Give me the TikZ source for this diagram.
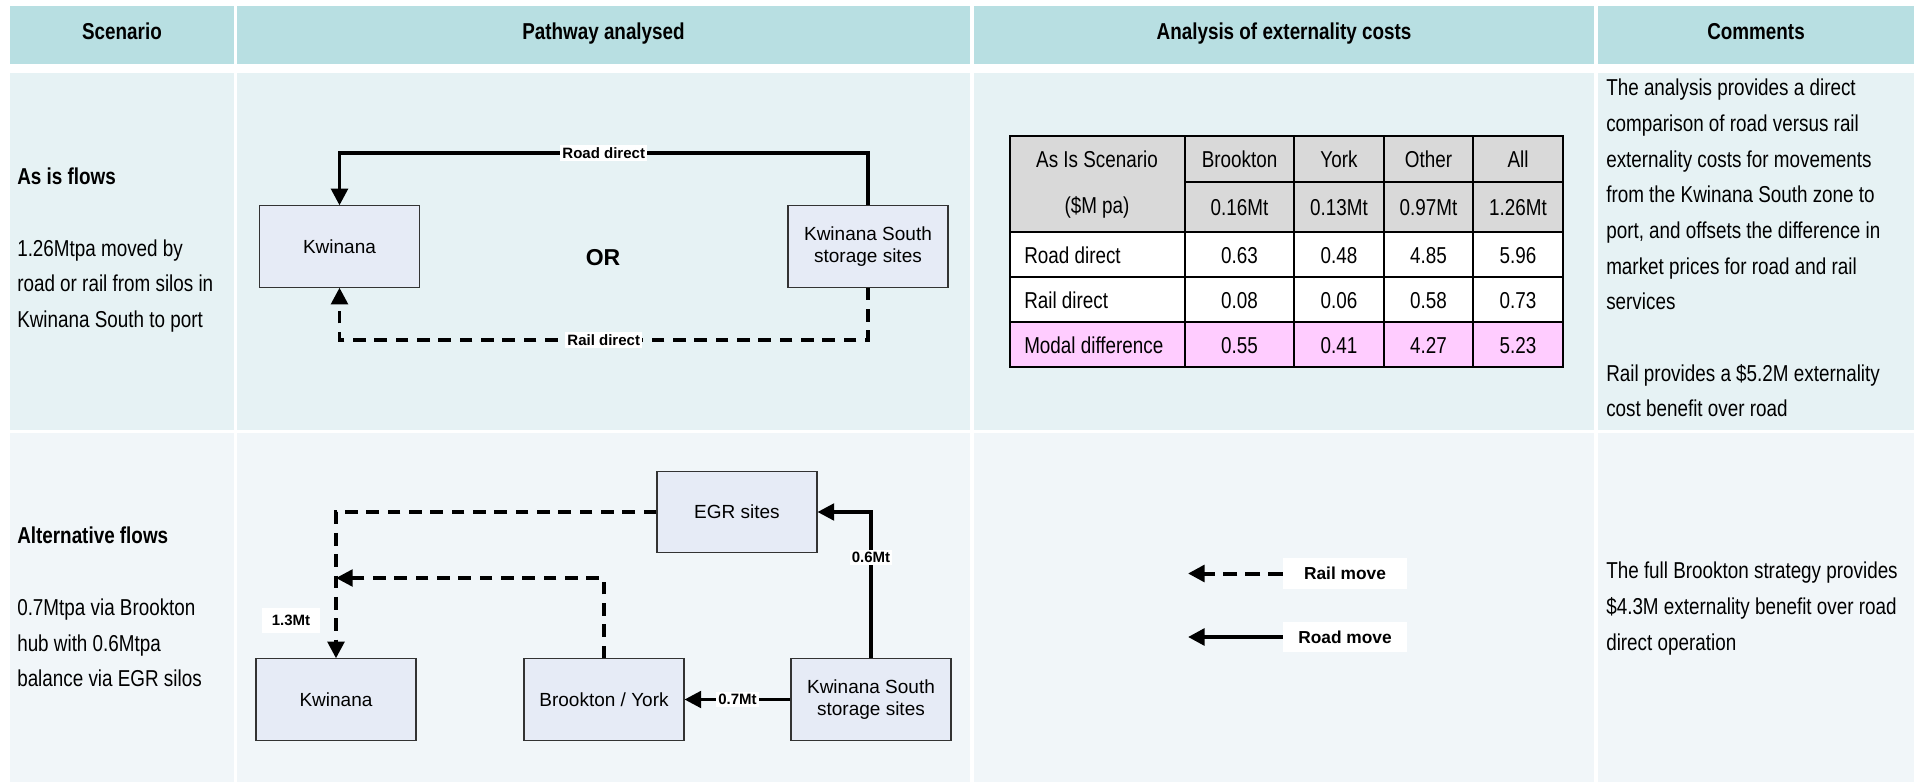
\documentclass[tikz,border=0pt]{standalone}
\usepackage{fontspec}
\setmainfont{Liberation Sans}
\newfontfamily\narrowfont{Liberation Sans}[FakeStretch=0.82]
\usetikzlibrary{arrows.meta}
\definecolor{hdr}{HTML}{B8DFE2}
\definecolor{rowa}{HTML}{E6F2F4}
\definecolor{rowb}{HTML}{F1F6F9}
\definecolor{boxfill}{HTML}{E6EBF6}
\definecolor{tgray}{HTML}{D9D9D9}
\definecolor{tpink}{HTML}{FFCCFF}
\begin{document}
\begin{tikzpicture}[x=0.75pt,y=-0.75pt,
  hdrtext/.style={font=\narrowfont\bfseries\fontsize{17.25}{20}\selectfont, anchor=base, inner sep=0},
  bodyline/.style={font=\narrowfont\fontsize{17.25}{20}\selectfont, anchor=base west, inner sep=0},
  titleline/.style={font=\narrowfont\bfseries\fontsize{17.25}{20}\selectfont, anchor=base west, inner sep=0},
  place/.style={draw=black!80, line width=0.8pt, fill=boxfill, minimum width=120pt, minimum height=61pt, align=center, font=\fontsize{14.25}{16.5}\selectfont, inner sep=0},
  road/.style={line width=2.6pt, -{Triangle[length=12.5pt,width=12.5pt]}},
  rail/.style={road, dash pattern=on 9.5pt off 6.5pt},
  elabel/.style={fill=white, font=\bfseries\fontsize{11.25}{13}\selectfont, inner sep=1.5pt},
  legendbox/.style={fill=white, font=\bfseries\fontsize{13}{15}\selectfont, minimum width=93pt, minimum height=23pt, inner sep=0},
  cell/.style={font=\narrowfont\fontsize{17.25}{20}\selectfont, anchor=base, inner sep=0},
  rowlabel/.style={font=\narrowfont\fontsize{17.25}{20}\selectfont, anchor=base west, inner sep=0},
  tline/.style={line width=2pt}
]
\useasboundingbox (0,0) rectangle (1914,782);
% backgrounds
\fill[hdr] (10,6) rectangle (234,64);
\fill[hdr] (237,6) rectangle (970,64);
\fill[hdr] (974,6) rectangle (1594,64);
\fill[hdr] (1598,6) rectangle (1914,64);
\fill[rowa] (10,73) rectangle (234,430);
\fill[rowa] (237,73) rectangle (970,430);
\fill[rowa] (974,73) rectangle (1594,430);
\fill[rowa] (1598,73) rectangle (1914,430);
\fill[rowb] (10,433) rectangle (234,782);
\fill[rowb] (237,433) rectangle (970,782);
\fill[rowb] (974,433) rectangle (1594,782);
\fill[rowb] (1598,433) rectangle (1914,782);
% headers
\node[hdrtext] (h1) at (122,39) {Scenario};
\node[hdrtext] (h2) at (603.5,39) {Pathway analysed};
\node[hdrtext] (h3) at (1284,39) {Analysis of externality costs};
\node[hdrtext] (h4) at (1756,39) {Comments};
% row 1 scenario
\node[titleline] (t1) at (17,184) {As is flows};
\node[bodyline] (b11) at (17,256) {1.26Mtpa moved by};
\node[bodyline] (b12) at (17,291) {road or rail from silos in};
\node[bodyline] (b13) at (17,327) {Kwinana South to port};
% row 1 diagram
\node[place] (kw1) at (339.5,246.5) {Kwinana};
\node[place] (ks1) at (868,246.5) {Kwinana South\\storage sites};
\coordinate (roadlvl) at (600,153);
\coordinate (raillvl) at (600,340);
\draw[road] (ks1.north) -- (ks1.north |- roadlvl) -- node[elabel]{Road direct} (kw1.north |- roadlvl) -- (kw1.north);
\draw[rail] (ks1.south) -- (ks1.south |- raillvl) -- node[elabel]{Rail direct} (kw1.south |- raillvl) -- (kw1.south);
\node[font=\bfseries\fontsize{17.25}{20}\selectfont] (or) at (603,258) {OR};
% row 1 table
\fill[tgray] (1010,136) rectangle (1563,232);
\fill[white] (1010,232) rectangle (1563,322);
\fill[tpink] (1010,322) rectangle (1563,367);
\draw[tline] (1010,136) rectangle (1563,367);
\draw[tline] (1185,182) -- (1563,182);
\draw[tline] (1010,232) -- (1563,232);
\draw[tline] (1010,277) -- (1563,277);
\draw[tline] (1010,322) -- (1563,322);
\draw[tline] (1185,136) -- (1185,367);
\draw[tline] (1294,136) -- (1294,367);
\draw[tline] (1384,136) -- (1384,367);
\draw[tline] (1473,136) -- (1473,367);
\node[cell] (c00) at (1097,167) {As Is Scenario};
\node[cell] (c01) at (1097,213) {(\$M pa)};
\node[cell] (c1) at (1239.5,167) {Brookton};
\node[cell] (c2) at (1339,167) {York};
\node[cell] (c3) at (1428.5,167) {Other};
\node[cell] (c4) at (1518,167) {All};
\node[cell] (m1) at (1239.5,215) {0.16Mt};
\node[cell] (m2) at (1339,215) {0.13Mt};
\node[cell] (m3) at (1428.5,215) {0.97Mt};
\node[cell] (m4) at (1518,215) {1.26Mt};
\node[rowlabel] (r1) at (1024,263) {Road direct};
\node[cell] (r11) at (1239.5,263) {0.63};
\node[cell] (r12) at (1339,263) {0.48};
\node[cell] (r13) at (1428.5,263) {4.85};
\node[cell] (r14) at (1518,263) {5.96};
\node[rowlabel] (r2) at (1024,308) {Rail direct};
\node[cell] (r21) at (1239.5,308) {0.08};
\node[cell] (r22) at (1339,308) {0.06};
\node[cell] (r23) at (1428.5,308) {0.58};
\node[cell] (r24) at (1518,308) {0.73};
\node[rowlabel] (r3) at (1024,353) {Modal difference};
\node[cell] (r31) at (1239.5,353) {0.55};
\node[cell] (r32) at (1339,353) {0.41};
\node[cell] (r33) at (1428.5,353) {4.27};
\node[cell] (r34) at (1518,353) {5.23};
% row 1 comments
\node[bodyline] (k1) at (1606,95) {The analysis provides a direct};
\node[bodyline] (k2) at (1606,131) {comparison of road versus rail};
\node[bodyline] (k3) at (1606,167) {externality costs for movements};
\node[bodyline] (k4) at (1606,202) {from the Kwinana South zone to};
\node[bodyline] (k5) at (1606,238) {port, and offsets the difference in};
\node[bodyline] (k6) at (1606,274) {market prices for road and rail};
\node[bodyline] (k7) at (1606,309) {services};
\node[bodyline] (k8) at (1606,381) {Rail provides a \$5.2M externality};
\node[bodyline] (k9) at (1606,416) {cost benefit over road};
% row 2 scenario
\node[titleline] (t2) at (17,543) {Alternative flows};
\node[bodyline] (b21) at (17,615) {0.7Mtpa via Brookton};
\node[bodyline] (b22) at (17,651) {hub with 0.6Mtpa};
\node[bodyline] (b23) at (17,686) {balance via EGR silos};
% row 2 diagram
\node[place] (kw2) at (336,699.5) {Kwinana};
\node[place] (by) at (604,699.5) {Brookton / York};
\node[place] (ks2) at (871,699.5) {Kwinana South\\storage sites};
\node[place] (egr) at (737,512) {EGR sites};
\coordinate (railjoin) at (336,578);
\draw[road] (ks2.north) -- node[elabel,pos=0.69]{0.6Mt} (ks2.north |- egr.east) -- (egr.east);
\draw[road] (ks2.west) -- node[elabel]{0.7Mt} (by.east);
\draw[rail] (egr.west) -- (egr.west -| kw2.north) -- (kw2.north);
\draw[rail] (by.north) -- (by.north |- railjoin) -- (railjoin);
\node[elabel, minimum width=43.5pt, minimum height=19pt, inner sep=0] (l13) at (291,620.5) {1.3Mt};
% legend
\node[legendbox] (lgrail) at (1345,573.5) {Rail move};
\node[legendbox] (lgroad) at (1345,637) {Road move};
\coordinate (lgrailend) at (1188,573.5);
\coordinate (lgroadend) at (1188,637);
\draw[rail, line width=3pt, dash pattern=on 11pt off 6pt] (lgrail.west) -- (lgrailend);
\draw[road, line width=3pt] (lgroad.west) -- (lgroadend);
% row 2 comments
\node[bodyline] (q1) at (1606,578) {The full Brookton strategy provides};
\node[bodyline] (q2) at (1606,614) {\$4.3M externality benefit over road};
\node[bodyline] (q3) at (1606,650) {direct operation};
\end{tikzpicture}
\end{document}
